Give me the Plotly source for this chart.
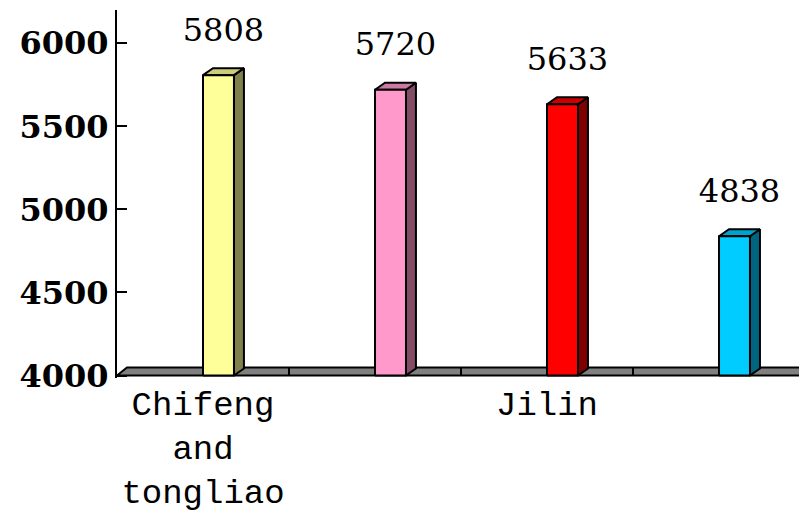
import plotly.graph_objects as go

# ---- data ----
categories = ["Chifeng<br>and<br>tongliao", "", "Jilin", ""]
values = [5808, 5720, 5633, 4838]
value_labels = ["5808", "5720", "5633", "4838"]
y_ticks = [4000, 4500, 5000, 5500, 6000]
y_tick_labels = ["4000", "4500", "5000", "5500", "6000"]

# ---- styles ----
front_colors = ["#FFFF99", "#FF99CC", "#FF0000", "#00CCFF"]
side_colors = ["#80804C", "#804C66", "#800000", "#006680"]
top_colors = ["#CCCC7A", "#CC7AA3", "#CC0000", "#00A3CC"]

BASE = 4000
BAR_W = 0.18      # front face width (category units)
DX = 0.058        # depth offset x (category units)
DY = 42           # depth offset y (value units)
FLOOR_DY = 48
LABEL_OFF = 255

n = len(categories)
fig = go.Figure()

# floor slab
x0 = -0.5
x1 = n - 0.5 + 1
fig.add_trace(go.Scatter(
    x=[x0, x0 + DX, x1 + DX, x1, x0],
    y=[BASE, BASE + FLOOR_DY, BASE + FLOOR_DY, BASE, BASE],
    fill="toself", fillcolor="#808080", mode="lines",
    line=dict(color="black", width=2), hoverinfo="skip"))
for i in range(1, n):
    xb = i - 0.5
    fig.add_trace(go.Scatter(x=[xb, xb], y=[BASE, BASE + FLOOR_DY], mode="lines",
                             line=dict(color="black", width=2), hoverinfo="skip"))

# 3D bars
for i, v in enumerate(values):
    xl = i
    xr = i + BAR_W
    faces = [
        ([xr, xr + DX, xr + DX, xr, xr], [BASE, BASE + DY, v + DY, v, BASE], side_colors[i]),
        ([xl, xl + DX, xr + DX, xr, xl], [v, v + DY, v + DY, v, v], top_colors[i]),
        ([xl, xr, xr, xl, xl], [BASE, BASE, v, v, BASE], front_colors[i]),
    ]
    for fx, fy, c in faces:
        fig.add_trace(go.Scatter(x=fx, y=fy, fill="toself", fillcolor=c, mode="lines",
                                 line=dict(color="black", width=2), hoverinfo="skip"))

# value labels
fig.add_trace(go.Scatter(
    x=[i + (BAR_W + DX) / 2 for i in range(n)],
    y=[v + LABEL_OFF for v in values],
    text=value_labels, mode="text", textposition="middle center",
    textfont=dict(family="DejaVu Serif", size=32, color="black"),
    cliponaxis=False, hoverinfo="skip"))

fig.update_layout(
    width=799, height=510,
    margin=dict(l=117, r=0, t=10, b=132, autoexpand=False),
    paper_bgcolor="white", plot_bgcolor="white",
    showlegend=False,
    xaxis=dict(range=[-0.5, 3.465], tickmode="array", tickvals=list(range(n)),
               ticktext=categories, showgrid=False, zeroline=False, showline=False,
               automargin=False, ticks="", ticklabelstandoff=2,
               tickfont=dict(family="Liberation Mono", size=34, color="black")),
    yaxis=dict(range=[3985, 6200], tickmode="array", tickvals=y_ticks, ticktext=y_tick_labels,
               ticks="inside", ticklen=10, tickwidth=2, tickcolor="black",
               showline=True, linewidth=2, linecolor="black", automargin=False,
               showgrid=False, zeroline=False, ticklabelstandoff=0,
               tickfont=dict(family="DejaVu Serif", size=32, color="black", weight="bold")),
)

fig.write_html("out.html")
